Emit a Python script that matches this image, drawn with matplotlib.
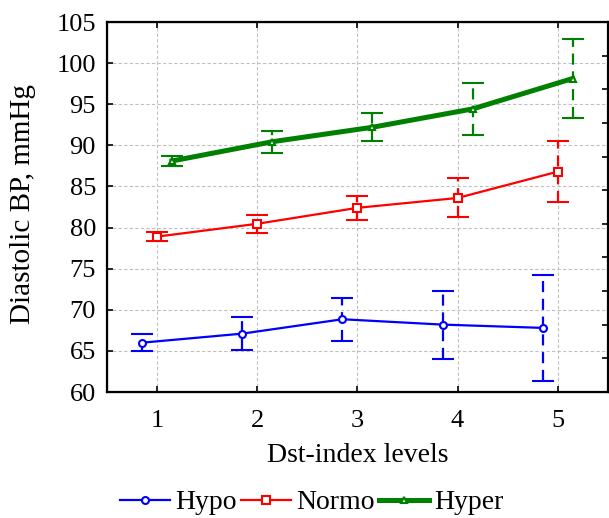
import numpy as np
import matplotlib.pyplot as plt
from matplotlib.lines import Line2D

plt.rcParams['font.family'] = ['Liberation Serif', 'DejaVu Serif']

levels = [1, 2, 3, 4, 5]
hypo_mean = [66.0, 67.1, 68.85, 68.2, 67.8]
hypo_err = [1.07, 2.0, 2.6, 4.13, 6.48]
normo_mean = [78.9, 80.46, 82.4, 83.6, 86.8]
normo_err = [0.53, 1.1, 1.48, 2.37, 3.73]
hyper_mean = [88.1, 90.44, 92.2, 94.43, 98.13]
hyper_err = [0.65, 1.35, 1.7, 3.15, 4.75]

fig = plt.figure(figsize=(6.09, 5.18), dpi=100)
ax = fig.add_axes([0.1757, 0.2432, 0.8223, 0.7143])

series = [
    ('Hypo', hypo_mean, hypo_err, -0.15, 'blue', 'o', 5, 1.6),
    ('Normo', normo_mean, normo_err, 0.0, 'red', 's', 6, 1.6),
    ('Hyper', hyper_mean, hyper_err, 0.15, 'green', '^', 4.5, 3.6),
]
x = np.array(levels, dtype=float)
handles = []
for name, mean, err, off, color, marker, ms, lw in series:
    line, caps, bars = ax.errorbar(x + off, mean, yerr=err, color=color, lw=lw,
                                   marker=marker, ms=ms, mfc='white', mec=color, mew=1.5,
                                   elinewidth=1.6, capsize=8, capthick=1.6, zorder=3)
    bars[0].set_linestyle((0, (5, 3)))
    handles.append(Line2D([], [], color=color, lw=lw, marker=marker, ms=ms,
                          mfc='white', mec=color, mew=1.5, label=name))

ax.set_xlim(0.5, 5.5)
ax.set_ylim(60, 105)
ax.set_xticks(levels)
ax.set_yticks(np.arange(60, 106, 5))
ax.tick_params(direction='in', length=4, width=1.2, labelsize=19, top=True)
ax.tick_params(axis='x', pad=13)
ax.tick_params(axis='y', pad=8)
ax.grid(True, color='#c0c0c0', linestyle=(0, (3, 2)), linewidth=0.8)
ax.set_axisbelow(True)
for s in ax.spines.values():
    s.set_linewidth(1.6)

# right-hand axis carries its own finer tick marks
ax2 = ax.twinx()
ax2.set_ylim(60, 105)
ax2.set_yticks(np.linspace(60, 105, 12))
ax2.set_yticklabels([])
ax2.tick_params(direction='in', length=4, width=1.2)

ax.set_xlabel('Dst-index levels', fontsize=20, labelpad=8)
ax.set_ylabel('Diastolic BP, mmHg', fontsize=21)
ax.yaxis.set_label_coords(-0.142, 0.508)

fig.legend(handles=handles, loc='lower center', bbox_to_anchor=(0.512, -0.043), ncol=3,
           frameon=False, fontsize=20, handlelength=1.8, handletextpad=0.2,
           columnspacing=0.15)

fig.savefig('out.png', dpi=100)
